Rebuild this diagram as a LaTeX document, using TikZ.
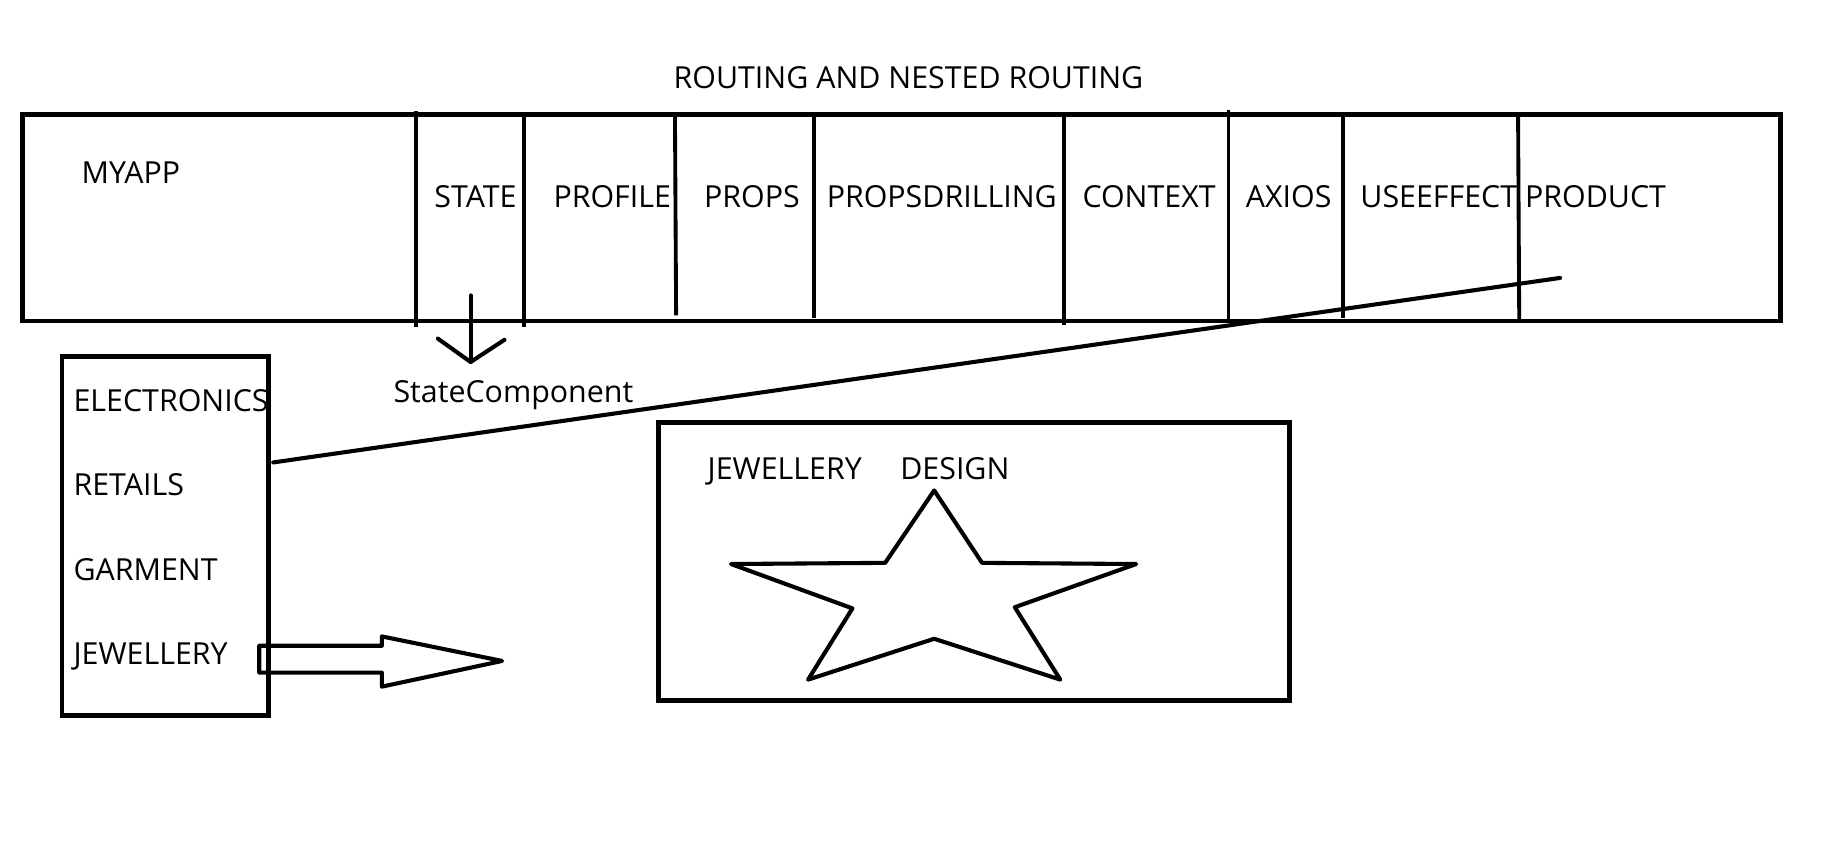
\documentclass[tikz,border=0pt]{standalone}
\usepackage{fontspec}
\setmainfont{Open Sans}
\begin{document}
\begin{tikzpicture}[x=1pt,y=-1pt,
  box/.style={draw,line width=4pt,inner sep=0pt,outer sep=0pt},
  lbl/.style={inner sep=0pt,outer sep=0pt,anchor=base west,font=\fontsize{26}{30}\selectfont},
  divider/.style={line width=3.3pt},
  conn/.style={line width=3.5pt,line cap=round,line join=round}]
\fill[white] (0,0) rectangle (1568,724);
\useasboundingbox (0,0) rectangle (1568,724);
% title
\node[lbl,anchor=base] (title) at (778,76) {ROUTING AND NESTED ROUTING};
% main app box
\node[box,minimum width=1506pt,minimum height=177pt] (app) at (772,186.5) {};
\draw[divider] (356,95) -- (356,280);
\draw[divider] (449,98) -- (449,280);
\draw[divider] (578,98) -- (579,270);
\draw[divider] (697,98) -- (697,272);
\draw[divider] (911,98) -- (911,278);
\draw[divider] (1052,94) -- (1052,275);
\draw[divider] (1150,98) -- (1150,272);
\draw[divider] (1300,97) -- (1301,273);
\node[lbl] (myapp) at (70,157) {MYAPP};
\node[lbl] (state) at (372,177.5) {STATE};
\node[lbl] (profile) at (474,177.5) {PROFILE};
\node[lbl] (props) at (603,177.5) {PROPS};
\node[lbl] (propsd) at (708,177.5) {PROPSDRILLING};
\node[lbl] (context) at (927,177.5) {CONTEXT};
\node[lbl] (axios) at (1067,177.5) {AXIOS};
\node[lbl] (useeffect) at (1165,177.5) {USEEFFECT};
\node[lbl] (product) at (1306,177.5) {PRODUCT};
% state arrow
\node[lbl] (statecomp) at (337,345) {StateComponent};
\coordinate (sa1) at (403,253);
\coordinate (sa2) at (403,310);
\draw[conn] (sa1) -- (sa2);
\draw[conn] (375,290) -- (sa2) -- (432,291);
% left box
\node[box,minimum width=177pt,minimum height=308pt] (cat) at (141.5,459) {};
\node[lbl] (elec) at (63,352) {ELECTRONICS};
\node[lbl] (retail) at (63,424) {RETAILS};
\node[lbl] (garm) at (63,497) {GARMENT};
\node[lbl] (jew) at (63,569) {JEWELLERY};
% diagonal connector
\coordinate (pd) at (1336,238);
\coordinate (cr) at (234,396);
\draw[conn] (pd) -- (cr);
% block arrow
\draw[conn] (222,553) -- (327,553) -- (327,545) -- (430,566) -- (327,588) -- (327,576) -- (222,576) -- cycle;
% design box
\node[box,minimum width=540pt,minimum height=238pt] (design) at (834,481) {};
\node[lbl] (djew) at (606,411) {JEWELLERY};
\node[lbl] (ddes) at (771,411) {DESIGN};
% star
\draw[conn] (800,420) -- (841,482) -- (973,483) -- (869,520) -- (908,582) -- (800,547) -- (692,582) -- (730,521) -- (626,483) -- (758,482) -- cycle;
\end{tikzpicture}
\end{document}
